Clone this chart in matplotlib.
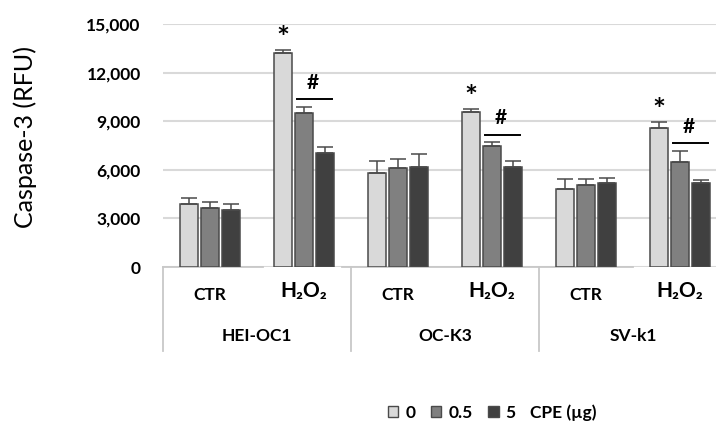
import matplotlib.pyplot as plt
import matplotlib.transforms as mtransforms
from matplotlib.patches import Patch
import numpy as np

FAM = ["Lato", "DejaVu Sans"]
plt.rcParams["font.family"] = FAM

groups = ["HEI-OC1", "OC-K3", "SV-k1"]
conditions = ["CTR", "H₂O₂"]
doses = ["0", "0.5", "5"]

mean_0 = [3890, 13230, 5780, 9550, 4800, 8560]
mean_05 = [3640, 9490, 6130, 7490, 5080, 6500]
mean_5 = [3520, 7020, 6170, 6150, 5170, 5170]
err_0 = [370, 170, 780, 220, 610, 370]
err_05 = [370, 410, 520, 230, 330, 680]
err_5 = [370, 410, 820, 390, 310, 200]
significant = [False, True, False, True, False, True]

colors = ["#d9d9d9", "#808080", "#404040"]
edge = "#4a4a4a"
grid_col = "#d9d9d9"
bold = {"family": FAM, "fontweight": "bold"}

fig = plt.figure(figsize=(7.16, 4.25), dpi=100)
# axes runs past the right edge on purpose, like the original
ax = fig.add_axes([163 / 716, 158 / 425, 564 / 716, 243 / 425])

n = len(groups) * len(conditions)
x = np.arange(n) + 0.5
step = 0.223
width = 0.19

means = [mean_0, mean_05, mean_5]
errs = [err_0, err_05, err_5]
for i in range(3):
    xi = x + (i - 1) * step
    ax.bar(xi, means[i], width, color=colors[i], edgecolor=edge, linewidth=1.1, zorder=2)
    ax.errorbar(xi, means[i], yerr=[np.zeros(n), errs[i]], fmt="none",
                ecolor=edge, elinewidth=1.1, capsize=5.5, capthick=1.1, zorder=3)

# significance marks
for k in range(n):
    if not significant[k]:
        continue
    top0 = mean_0[k] + err_0[k]
    ax.annotate("*", (x[k] - step, top0), xytext=(0, 8), textcoords="offset points",
                ha="center", va="center", fontsize=22, **bold)
    top = max(mean_05[k] + err_05[k], mean_5[k] + err_5[k])
    ly = top + 450
    x1 = x[k] - width / 2 + 0.02
    x2 = x[k] + step + width / 2 - 0.02
    ax.plot([x1, x2], [ly, ly], color="black", lw=1.4, zorder=3)
    ax.annotate("#", ((x1 + x2) / 2, ly), xytext=(-1, 12), textcoords="offset points",
                ha="center", va="center", fontsize=15, **bold)

ax.set_xlim(0, n)
ax.set_ylim(0, 15000)
ax.set_yticks(np.arange(0, 15001, 3000))
ax.set_yticklabels([f"{int(v):,}" for v in ax.get_yticks()], fontsize=12.5, **bold)
ax.tick_params(axis="y", length=0, pad=16)
ax.set_xticks([])
ax.grid(axis="y", color=grid_col, lw=1.5)
ax.set_axisbelow(True)
for s in ax.spines.values():
    s.set_visible(False)

ax.set_ylabel("Caspase-3 (RFU)", fontsize=18, family=FAM)
ax.yaxis.set_label_coords((37 - 163) / 564, 0.535)

# category axis drawn by hand
trans = mtransforms.blended_transform_factory(ax.transData, ax.transAxes)
for a, b in [(0, 1.06), (1.9, 5.0)]:
    ax.plot([a, b], [0, 0], color="#c8c8c8", lw=1.3, transform=trans, clip_on=False, zorder=1)
for g in range(len(groups) + 1):
    ax.plot([2 * g, 2 * g], [0, -0.346], color="#c8c8c8", lw=1.3, transform=trans, clip_on=False)
for k in range(n):
    cond = conditions[k % 2]
    if k % 2 == 0:
        ax.text(x[k], -0.115, cond, transform=trans, ha="center", va="center",
                fontsize=12.5, **bold)
    else:
        ax.text(x[k], -0.10, cond, transform=trans, ha="center", va="center",
                fontsize=15, **bold)
for g, name in enumerate(groups):
    ax.text(2 * g + 1, -0.284, name, transform=trans, ha="center", va="center",
            fontsize=12.5, **bold)

handles = [Patch(facecolor=c, edgecolor=edge, linewidth=1.0) for c in colors]
leg = fig.legend(handles, doses, loc="center left", bbox_to_anchor=(388 / 716, 12 / 425),
                 ncol=3, frameon=False, borderpad=0, borderaxespad=0,
                 handlelength=0.6, handleheight=0.6, handletextpad=0.4, columnspacing=0.9,
                 prop={"weight": "bold", "size": 12.5, "family": FAM})
fig.text(530 / 716, 12 / 425, "CPE (\u00b5g)", ha="left", va="center", fontsize=12.5,
         **bold)

fig.savefig("out.png", dpi=100)
